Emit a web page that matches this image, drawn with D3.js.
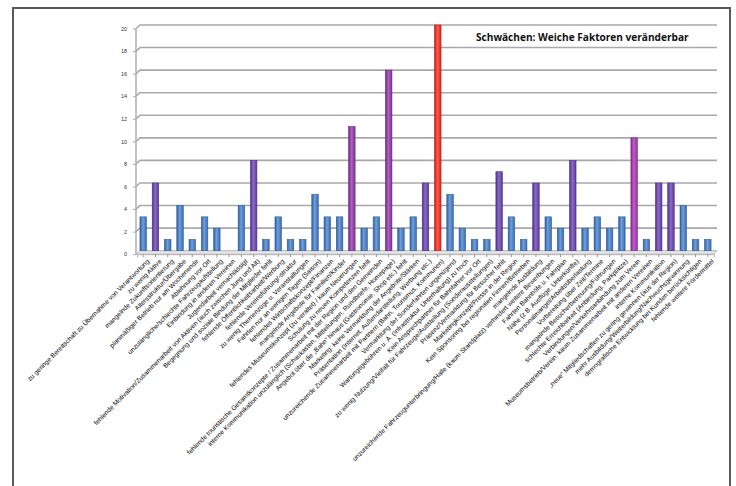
<!DOCTYPE html>
<html>
<head>
<meta charset="utf-8">
<script src="https://cdn.jsdelivr.net/npm/d3@7"></script>
<style>
  html, body { margin: 0; padding: 0; background: #fff; }
  svg { display: block; }
</style>
</head>
<body>
<svg id="chart" width="736" height="486"></svg>
<script>
// Kategorien (Schwächen), Anzahl der Nennungen und Farbgruppe je Balken
const categories = [
  "zu geringe Bereitschaft zu Übernahme von Verantwortung",
  "zu wenig Aktive",
  "mangelnde Zukunftsorientierung",
  "Altersstruktur/Übergabe",
  "planmäßiger Betrieb nur am Wochenende",
  "Ablehnung vor Ort",
  "unzulängliche/schlechte Fahrzeugaufstellung",
  "Einbindung in anderen Vereinen",
  "Jugendarbeit vernachlässigt",
  "fehlende Motivation/Zusammenarbeit von Aktiven (auch zwischen Jung und Alt)",
  "Begegnung und soziale Bindung der Mitglieder fehlt",
  "fehlende Öffentlichkeitsarbeit/Werbung",
  "fehlende Vereinsführung/-struktur",
  "zu wenig Themenzüge u. Veranstaltungen",
  "Fahrten nur an wenigen Tagen (Saison)",
  "fehlendes Wirtschaftskonzept/Finanzen",
  "mangelnde Angebote für Familien/Kinder",
  "fehlendes Museumskonzept (zu veraltet) / kaum Neuerungen",
  "Schulung zu neuen Kompetenzen fehlt",
  "fehlende touristische Gesamtkonzepte / Zusammenarbeit mit der Region und den Gemeinden",
  "interne Kommunikation unzulänglich (Schaukasten, Mitteilungen, Rundbriefe, Homepage)",
  "Angebot über die \u201eBahn\u201c hinaus (Gastronomie, Shop etc.) fehlt",
  "Marketing: keine Vermarktung der Angebote/Stärken",
  "Präsentation (Internet, Außendarstellung, Werbung etc.)",
  "unzureichende Zusammenarbeit mit Partnern (Bahn, Tourismus, Kommunen)",
  "Vermarktung der Sonderfahrten ungenügend",
  "Wartungsgebühren u. Ä. (Infrastruktur, Unterhaltung) zu hoch",
  "Kein Ansprechpartner für Bahnfahrer vor Ort",
  "zu wenig Nutzung/Vielfalt für Fahrzeuge/Ausstellung (Sonderausstellungen)",
  "Präsenz/Vermarktung für Besucher fehlt",
  "Marketingkonzept/Presse in der Region",
  "Kein Sponsoring bei regionalen Firmen/Betrieben",
  "mangelnde Ausbildung",
  "unzureichende Fahrzeugunterbringung/Halle (kaum Standplatz) verhindert weitere Bewerbungen",
  "Fahrten Bahnhöfe u. Fahrplan",
  "Nähe (z.B. Ausflüge, Unterkünfte)",
  "Personalmangel/Arbeitsüberlastung",
  "Vorbereitung über Zeit/Termine",
  "mangelnde Besucherbetreuung/Führungen",
  "schlechte Erreichbarkeit (Anbindung, Parkplätze)",
  "Verbindungen/Verkehrsanbindung zum Verein",
  "Museumsbetrieb/Verein: kaum Zusammenarbeit mit anderen Vereinen",
  "interne Kommunikation",
  "\u201eneue\u201c Mitgliedschaften zu gering gewinnen (aus der Region)",
  "mehr Ausbildung/Weiterbildung/Nachwuchsgewinnung",
  "demografische Entwicklung bei Kunden berücksichtigen",
  "fehlende weitere Fördermittel"
];

const values = [
  3, 6, 1, 4, 1, 3, 2, 0, 4, 8,
  1, 3, 1, 1, 5, 3, 3, 11, 2, 3,
  16, 2, 3, 6, 20, 5, 2, 1, 1, 7,
  3, 1, 6, 3, 2, 8, 2, 3, 2, 3,
  10, 1, 6, 6, 4, 1, 1
];

// Farbgruppe: b = blau, p = violett, m = magenta, k = pink-violett, r = rot
const groups = [
  "b","p","b","b","b","b","b","b","b","p",
  "b","b","b","b","b","b","b","m","b","b",
  "m","b","b","p","r","b","b","b","b","p",
  "b","b","p","b","b","p","b","b","b","b",
  "k","b","p","p","b","b","b"
];

const yTicks = [0, 2, 4, 6, 8, 10, 12, 14, 16, 18, 20];
const title = "Schwächen: Weiche Faktoren veränderbar";

const palette = {
  b: ["#2f5f9e", "#6f9fdc", "#3a6aae"],
  p: ["#4f3190", "#8a6cc4", "#5a3a98"],
  m: ["#6e2a86", "#ad62bf", "#7a3190"],
  k: ["#84278f", "#c05ec8", "#93309f"],
  r: ["#c01a1a", "#ff5a4a", "#d42420"]
};

const svg = d3.select("#chart");
const defs = svg.append("defs");

Object.entries(palette).forEach(([key, c]) => {
  const g = defs.append("linearGradient")
    .attr("id", "grad-" + key)
    .attr("x1", "0%").attr("x2", "100%").attr("y1", "0%").attr("y2", "0%");
  g.append("stop").attr("offset", "0%").attr("stop-color", c[0]);
  g.append("stop").attr("offset", "45%").attr("stop-color", c[1]);
  g.append("stop").attr("offset", "100%").attr("stop-color", c[2]);
});

// Rahmen
svg.append("path")
  .attr("d", "M13,495 L13,8 L730,8 L730,495")
  .attr("fill", "none")
  .attr("stroke", "#5a5a5a")
  .attr("stroke-width", 2);

const x = d3.scaleBand()
  .domain(categories)
  .range([137, 714])
  .paddingInner(0.47)
  .paddingOuter(0.24);

const y = d3.scaleLinear()
  .domain([0, 20])
  .range([250.7, 25]);

const depth = 3.5;

// Boden (3D)
svg.append("path")
  .attr("d", `M136,${y(0) + depth} L${717 - depth},${y(0) + depth} L717,${y(0)} L140,${y(0)} Z`)
  .attr("fill", "#e6e6e6")
  .attr("stroke", "#b5b5b5")
  .attr("stroke-width", 1);

// Gitternetzlinien mit Wandknick
const grid = svg.append("g");
yTicks.filter(t => t > 0).forEach(t => {
  grid.append("path")
    .attr("d", `M136,${y(t) + depth} L140,${y(t)} L717,${y(t)}`)
    .attr("fill", "none")
    .attr("stroke", "#a9a9a9")
    .attr("stroke-width", 1.6);
});

// Y-Achse
svg.append("line")
  .attr("x1", 136).attr("x2", 136)
  .attr("y1", y(20) + depth).attr("y2", y(0) + depth)
  .attr("stroke", "#a9a9a9")
  .attr("stroke-width", 1.4);

const yAxis = d3.axisLeft(y)
  .tickValues(yTicks)
  .tickSize(3)
  .tickPadding(6);

const yAxisG = svg.append("g")
  .attr("transform", `translate(136,${depth})`)
  .call(yAxis);
yAxisG.select(".domain").remove();
yAxisG.selectAll(".tick line").attr("stroke", "#a9a9a9");
yAxisG.selectAll(".tick text")
  .attr("font-family", "Liberation Sans, Arial, sans-serif")
  .attr("font-size", 5.5)
  .attr("fill", "#333");

// X-Achse mit gedrehten Beschriftungen
const xAxis = d3.axisBottom(x)
  .tickSize(3)
  .tickPadding(2);

const xAxisG = svg.append("g")
  .attr("transform", `translate(0,${y(0) + depth})`)
  .call(xAxis);
xAxisG.select(".domain")
  .attr("stroke", "#b5b5b5");
xAxisG.selectAll(".tick line").attr("stroke", "#9a9a9a");
xAxisG.selectAll(".tick text")
  .attr("font-family", "Liberation Sans, Arial, sans-serif")
  .attr("font-size", 6.6)
  .attr("fill", "#000")
  .attr("text-anchor", "end")
  .attr("dy", 0)
  .attr("transform", "translate(3,4) rotate(-45)");

// Balken
const data = categories.map((c, i) => ({ c, v: values[i], g: groups[i] }));

svg.append("g")
  .selectAll("rect")
  .data(data.filter(d => d.v > 0))
  .join("rect")
  .attr("x", d => x(d.c))
  .attr("y", d => y(d.v))
  .attr("width", x.bandwidth())
  .attr("height", d => y(0) - y(d.v))
  .attr("fill", d => `url(#grad-${d.g})`)
  .attr("stroke", d => palette[d.g][0])
  .attr("stroke-width", 0.6);

// Titel
svg.append("text")
  .attr("x", 476)
  .attr("y", 41)
  .attr("font-family", "Open Sans, Liberation Sans, sans-serif")
  .attr("font-weight", "bold")
  .attr("font-size", 10.1)
  .attr("fill", "#111")
  .text(title);
</script>
</body>
</html>
